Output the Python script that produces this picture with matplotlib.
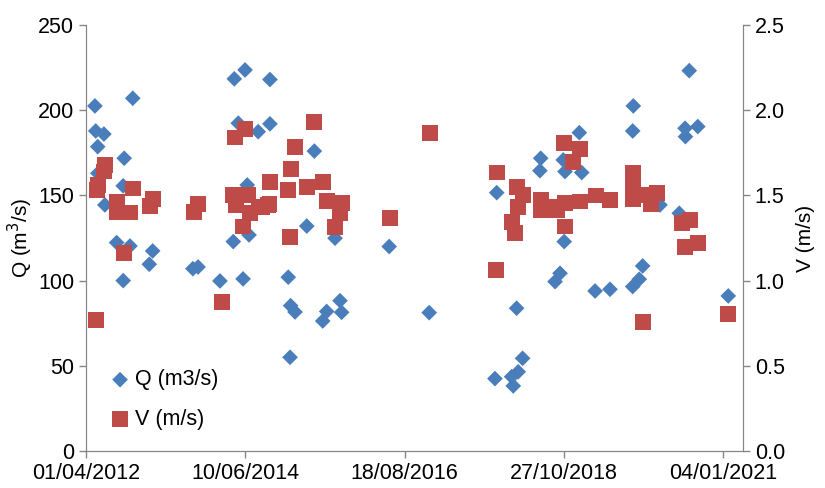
import numpy as np
import pandas as pd
import matplotlib
matplotlib.use('Agg')
import matplotlib.pyplot as plt
import matplotlib.dates as mdates

plt.rcParams['font.family'] = ['Liberation Sans', 'DejaVu Sans']

# sampling dates as Excel serial numbers, discharge Q (m3/s)
q_serial = [41045, 41235, 41049, 41090, 41059, 41192, 41187, 41095, 41154, 41221,
            41335, 41318, 41187, 41060, 41537, 41563, 41673, 41789, 41740, 41819,
            41745, 41799, 41924, 41765, 41865, 41924, 41810, 42147, 42109, 42251,
            42016, 42028, 42050, 42209, 42189, 42276, 42284, 42025, 42523, 42724,
            43063, 43054, 43284, 43280, 43397, 43406, 43402, 43381, 43356, 43163,
            43193, 43138, 43171, 43146, 43749, 43746, 43478, 43490, 43557, 43632,
            43796, 43779, 43746, 43848, 44030, 44073, 44009, 44011, 43883, 43980,
            44226]
q_vals = [202.5, 207, 187.8, 186, 178.6, 171.8, 155.6, 144.4, 122.3, 120.3,
          117.4, 109.6, 100, 163, 107, 108, 99.8, 101, 122.9, 126.8,
          218.4, 223.6, 218, 192.4, 187.4, 192, 156.1, 176, 132, 124.9,
          102, 85.3, 81.6, 81.9, 76.3, 88.2, 81.4, 55, 120, 81.2,
          151.6, 42.5, 171.8, 164.5, 170.8, 164, 122.9, 104.3, 99.4, 83.8,
          54.4, 43.6, 46.5, 38.2, 202.5, 187.8, 186.8, 163.4, 93.9, 94.9,
          108.6, 100.8, 96.5, 149, 223.2, 190.4, 189.4, 184.5, 144.4, 139.5,
          91]

# velocity V (m/s)
v_serial = [41095, 41090, 41059, 41057, 41235, 41335, 41321, 41157, 41154, 41221,
            41192, 41049, 41748, 41799, 41564, 41542, 41740, 41815, 41752, 41824,
            41790, 41870, 41916, 41924, 41682, 42147, 42050, 42030, 42016, 42109,
            42192, 41922, 41883, 42209, 42284, 42276, 42251, 42025, 42527, 42728,
            43058, 43066, 43163, 43197, 43168, 43141, 43155, 43284, 43286, 43331,
            43364, 43406, 43404, 43401, 43481, 43445, 43481, 43562, 43632, 43749,
            43746, 43749, 43791, 43836, 43867, 43796, 44034, 43992, 44076, 44009,
            44226]
v_vals = [1.68, 1.64, 1.56, 1.53, 1.54, 1.48, 1.44, 1.46, 1.40, 1.40,
          1.16, 0.77, 1.84, 1.89, 1.45, 1.405, 1.50, 1.50, 1.444, 1.395,
          1.317, 1.434, 1.444, 1.58, 0.876, 1.93, 1.786, 1.655, 1.532, 1.548,
          1.577, 1.45, 1.434, 1.467, 1.457, 1.395, 1.313, 1.258, 1.366, 1.865,
          1.063, 1.634, 1.551, 1.503, 1.434, 1.346, 1.278, 1.473, 1.415, 1.43,
          1.415, 1.454, 1.317, 1.806, 1.771, 1.698, 1.464, 1.499, 1.473, 1.63,
          1.551, 1.479, 1.503, 1.45, 1.513, 0.755, 1.356, 1.337, 1.223, 1.199,
          0.804]

def excel_date(s):
    return pd.to_datetime(np.array(s) - 25569, unit='D')

fig = plt.figure(figsize=(8.25, 4.88), dpi=100)
ax = fig.add_axes([0.1042, 0.0758, 0.7964, 0.873])
ax2 = ax.twinx()

blue = '#4A7EBB'
red = '#BE4B48'
ax.scatter(excel_date(q_serial), q_vals, marker='D', s=64, color=blue,
           edgecolors='none', label='Q (m3/s)', zorder=3)
ax2.scatter(excel_date(v_serial), v_vals, marker='s', s=130, color=red,
            edgecolors='none', label='V (m/s)', zorder=3)

ax.set_ylim(0, 250)
ax2.set_ylim(0, 2.5)
ax.set_yticks(np.arange(0, 251, 50))
ax2.set_yticks(np.arange(0, 2.51, 0.5))
ax2.yaxis.set_major_formatter(plt.FormatStrFormatter('%.1f'))

ticks = excel_date(np.arange(41000, 44201, 800))
ax.set_xlim(excel_date([41000])[0], excel_date([44300])[0])
ax.set_xticks(ticks)
ax.xaxis.set_major_formatter(mdates.DateFormatter('%d/%m/%Y'))

gray = '#868686'
for a in (ax, ax2):
    for side in a.spines:
        a.spines[side].set_color(gray)
    a.spines['top'].set_visible(False)
    a.tick_params(colors=gray, labelcolor='black', labelsize=15.5, length=5, width=1)

ax.set_ylabel('Q (m$^3$/s)', fontsize=15, labelpad=2)
ax2.set_ylabel('V (m/s)', fontsize=15, labelpad=8)

h1, l1 = ax.get_legend_handles_labels()
h2, l2 = ax2.get_legend_handles_labels()
ax2.legend(h1 + h2, l1 + l2, loc='lower left', bbox_to_anchor=(0.006, 0.03),
           frameon=False, fontsize=15.5, handletextpad=-0.3, labelspacing=0.85,
           borderaxespad=0)

fig.savefig('out.png', dpi=100)
